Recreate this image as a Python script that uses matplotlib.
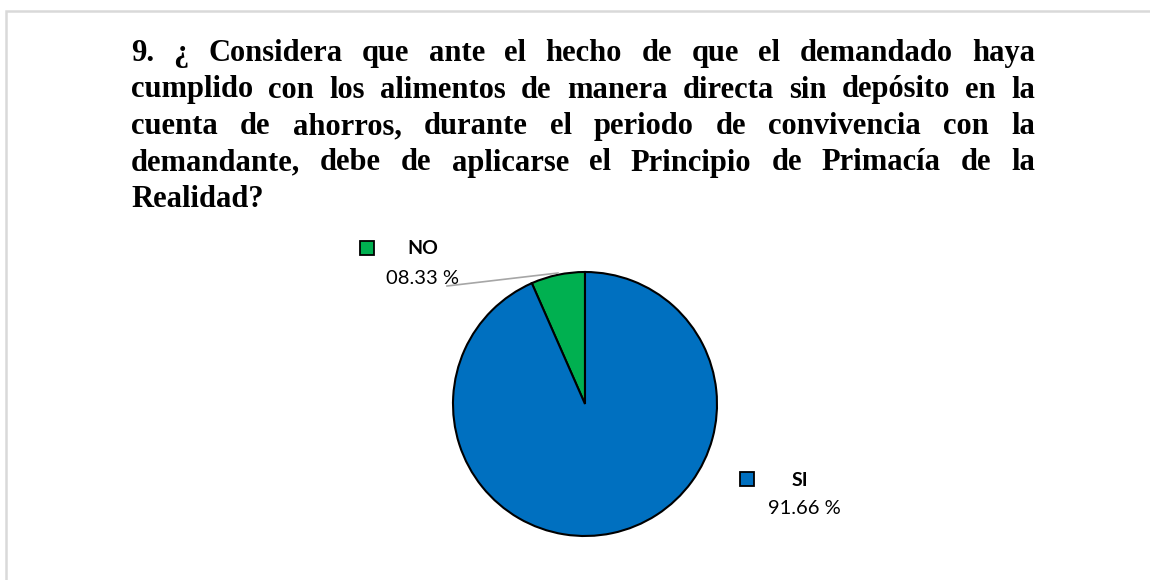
import matplotlib
matplotlib.use("Agg")
import matplotlib.pyplot as plt
from matplotlib.patches import Rectangle

# =========================
# DATA
# =========================
TITLE_LINES = [
    "9. ¿ Considera que ante el hecho de que el demandado haya",
    "cumplido con los alimentos de manera directa sin depósito en la",
    "cuenta de ahorros, durante el periodo de convivencia con la",
    "demandante, debe de aplicarse el Principio de Primacía de la",
    "Realidad?",
]
categories = ["NO", "SI"]
slice_shares = [6.6, 93.4]          # slice size as drawn in the picture
label_texts = ["08.33 %", "91.66 %"]
colors = ["#00B050", "#0070C0"]

W, H = 1150, 580

fig = plt.figure(figsize=(W / 100, H / 100), dpi=100)
ax = fig.add_axes([0, 0, 1, 1])
ax.set_xlim(0, W)
ax.set_ylim(0, H)
ax.axis("off")


def py(y_top):
    # pixel row (from top) -> data y
    return H - y_top


# outer frame
ax.add_patch(Rectangle((6, py(600)), 1200, 589, fill=False,
                       edgecolor="#D9D9D9", linewidth=1.8, zorder=0))

# =========================
# TITLE (justified)
# =========================
renderer = fig.canvas.get_renderer()
x_left, x_right = 131, 1035
baseline0, line_gap = 61, 36.5
title_font = dict(family="Liberation Serif", weight="bold", fontsize=22,
                  va="baseline", ha="left")

for i, line in enumerate(TITLE_LINES):
    y = py(baseline0 + i * line_gap)
    words = line.split(" ")
    texts = [ax.text(0, y, w, **title_font) for w in words]
    widths = [t.get_window_extent(renderer).width for t in texts]
    if i == len(TITLE_LINES) - 1 or len(words) == 1:
        gap = 5.5
    else:
        gap = (x_right - x_left - sum(widths)) / (len(words) - 1)
    x = x_left
    for t, w in zip(texts, widths):
        t.set_x(x)
        x += w + gap

# =========================
# PIE
# =========================
cx, cy, r = 585, py(404), 132
ax.pie(slice_shares, colors=colors, startangle=90, counterclock=True,
       center=(cx, cy), radius=r,
       wedgeprops=dict(edgecolor="black", linewidth=1.5))
ax.set_xlim(0, W)
ax.set_ylim(0, H)
ax.set_aspect("auto")

# leader line for NO
ax.plot([447, 558], [py(286), py(273)], color="#A6A6A6", linewidth=1.2)

# labels
label_font = "Lato"
marker_pos = [(367, 248), (747, 479)]
name_pos = [(423, 248), (800, 480)]
value_pos = [(423, 279), (804, 509)]
for k in range(len(categories)):
    mx, my = marker_pos[k]
    ax.plot(mx, py(my), marker="s", markersize=9.5, color=colors[k],
            markeredgecolor="black", markeredgewidth=1.3)
    nx, ny = name_pos[k]
    ax.text(nx, py(ny), categories[k], family=label_font, weight="bold",
            fontsize=14, ha="center", va="center")
    vx, vy = value_pos[k]
    ax.text(vx, py(vy), label_texts[k], family=label_font, fontsize=14.5,
            ha="center", va="center")

fig.savefig("out.png", dpi=100)
